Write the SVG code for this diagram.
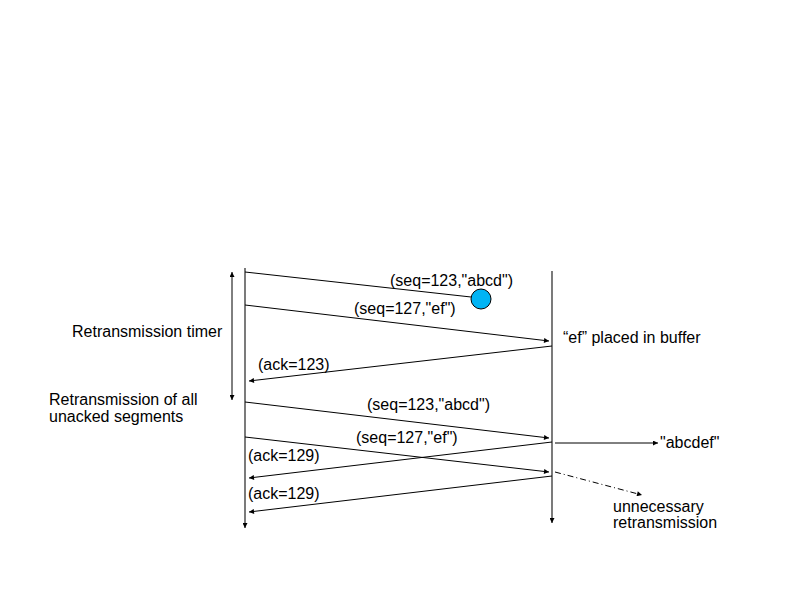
<svg xmlns="http://www.w3.org/2000/svg" width="793" height="595" viewBox="0 0 793 595">
<style>
text{font-family:"Liberation Sans",Arial,sans-serif;font-size:16px;fill:#000}
.ln{stroke:#000;stroke-width:1;fill:none}
.tl{stroke:#333;stroke-width:1.3;fill:none}
</style>
<defs>
<marker id="ah" viewBox="0 0 10 10" refX="10" refY="5" markerWidth="6" markerHeight="5" orient="auto" markerUnits="userSpaceOnUse">
<path d="M0,0 L10,5 L0,10 z" fill="#000"/>
</marker>
<marker id="as" viewBox="0 0 10 10" refX="0" refY="5" markerWidth="6" markerHeight="5" orient="auto" markerUnits="userSpaceOnUse">
<path d="M10,0 L0,5 L10,10 z" fill="#000"/>
</marker>
</defs>
<rect width="793" height="595" fill="#fff"/>
<g id="sender">
<line class="tl" x1="245" y1="268" x2="245" y2="528" marker-end="url(#ah)"/>
</g>
<g id="receiver">
<line class="tl" x1="552" y1="271" x2="552" y2="523" marker-end="url(#ah)"/>
</g>
<g id="timer">
<line class="ln" x1="232" y1="272" x2="232" y2="400" marker-start="url(#as)" marker-end="url(#ah)"/>
<text x="72" y="337">Retransmission timer</text>
</g>
<g id="labels-left">
<text x="49" y="405">Retransmission of all</text>
<text x="49" y="422">unacked segments</text>
</g>
<g id="loss">
<circle cx="481" cy="299" r="10" fill="#00B4F5" stroke="#000" stroke-width="1"/>
</g>
<g id="connectors">
<line class="ln" x1="245" y1="272" x2="471" y2="297"/>
<line class="ln" x1="245" y1="305" x2="549" y2="341" marker-end="url(#ah)"/>
<line class="ln" x1="552" y1="346" x2="249" y2="381" marker-end="url(#ah)"/>
<line class="ln" x1="245" y1="402" x2="549" y2="438" marker-end="url(#ah)"/>
<line class="ln" x1="245" y1="437" x2="549" y2="472" marker-end="url(#ah)"/>
<line class="ln" x1="552" y1="442" x2="249" y2="478" marker-end="url(#ah)"/>
<line class="ln" x1="552" y1="476" x2="249" y2="512" marker-end="url(#ah)"/>
<line class="ln" x1="555" y1="443" x2="658" y2="443" marker-end="url(#ah)"/>
<line class="ln" x1="555" y1="472" x2="642" y2="495" stroke-dasharray="6,3,1,3" marker-end="url(#ah)"/>
</g>
<g id="msg-labels">
<text x="390" y="286">(seq=123,"abcd")</text>
<text x="354" y="314">(seq=127,"ef")</text>
<text x="563" y="343">“ef” placed in buffer</text>
<text x="258" y="370">(ack=123)</text>
<text x="367" y="410">(seq=123,"abcd")</text>
<text x="356" y="443">(seq=127,"ef")</text>
<text x="248" y="461">(ack=129)</text>
<text x="248" y="499">(ack=129)</text>
<text x="660" y="448">"abcdef"</text>
<text x="613" y="512">unnecessary</text>
<text x="613" y="528">retransmission</text>
</g>
</svg>
